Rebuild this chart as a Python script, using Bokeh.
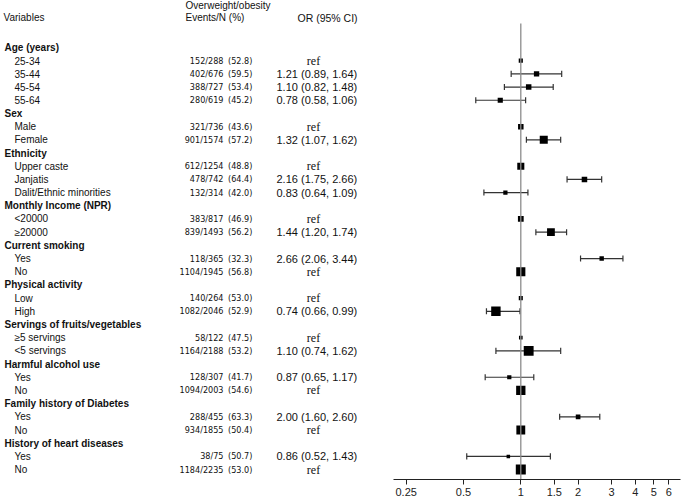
from bokeh.plotting import figure
from bokeh.models import Range1d, FixedTicker, CustomJSTickFormatter, ColumnDataSource
from bokeh.core.properties import value
from bokeh.embed import file_html
from bokeh.resources import INLINE

# ---------------- data ----------------
groups = ["Age (years)", "Sex", "Ethnicity", "Monthly Income (NPR)", "Current smoking",
          "Physical activity", "Servings of fruits/vegetables", "Harmful alcohol use",
          "Family history of Diabetes", "History of heart diseases"]
levels = [["25-34", "35-44", "45-54", "55-64"],
          ["Male", "Female"],
          ["Upper caste", "Janjatis", "Dalit/Ethnic minorities"],
          ["<20000", "\u226520000"],
          ["Yes", "No"],
          ["Low", "High"],
          ["\u22655 servings", "<5 servings"],
          ["Yes", "No"],
          ["Yes", "No"],
          ["Yes", "No"]]
events = [152, 402, 388, 280, 321, 901, 612, 478, 132, 383, 839, 118, 1104,
          140, 1082, 58, 1164, 128, 1094, 288, 934, 38, 1184]
totals = [288, 676, 727, 619, 736, 1574, 1254, 742, 314, 817, 1493, 365, 1945,
          264, 2046, 122, 2188, 307, 2003, 455, 1855, 75, 2235]
pcts = [52.8, 59.5, 53.4, 45.2, 43.6, 57.2, 48.8, 64.4, 42.0, 46.9, 56.2, 32.3, 56.8,
        53.0, 52.9, 47.5, 53.2, 41.7, 54.6, 63.3, 50.4, 50.7, 53.0]
odds = [None, 1.21, 1.10, 0.78, None, 1.32, None, 2.16, 0.83, None, 1.44, 2.66, None,
        None, 0.74, None, 1.10, 0.87, None, 2.00, None, 0.86, None]
ci_lo = [None, 0.89, 0.82, 0.58, None, 1.07, None, 1.75, 0.64, None, 1.20, 2.06, None,
         None, 0.66, None, 0.74, 0.65, None, 1.60, None, 0.52, None]
ci_hi = [None, 1.64, 1.48, 1.06, None, 1.62, None, 2.66, 1.09, None, 1.74, 3.44, None,
         None, 0.99, None, 1.62, 1.17, None, 2.60, None, 1.43, None]
ticks = [0.25, 0.5, 1, 1.5, 2, 3, 4, 5, 6]

# ---------------- layout helpers ----------------
W, H = 685, 500
X_ONE, OCT = 520.3, 57.3          # px of OR=1 and px per doubling


def ref_or(X):
    return 2 ** ((X - X_ONE) / OCT)


def row(Y):
    return (Y - 47.0) / 13.19


xr = Range1d(ref_or(0), ref_or(W))
yr = Range1d(row(479), row(0))

p = figure(width=W, height=H, x_axis_type="log", x_range=xr, y_range=yr,
           output_backend="svg", toolbar_location=None, y_axis_location=None,
           min_border_left=0, min_border_right=0, min_border_top=0, min_border_bottom=21,
           outline_line_color=None, background_fill_color="white")
p.grid.visible = False

ax = p.xaxis[0]
ax.ticker = FixedTicker(ticks=ticks)
ax.formatter = CustomJSTickFormatter(code="return tick.toString();")
ax.bounds = (ref_or(393), ref_or(680))
ax.major_tick_in = 0
ax.major_tick_out = 5
ax.minor_tick_in = 0
ax.minor_tick_out = 0
ax.axis_line_color = "#222222"
ax.major_tick_line_color = "#222222"
ax.major_label_text_font = "Liberation Sans"
ax.major_label_text_font_size = "11px"
ax.major_label_text_color = "#222222"
ax.major_label_standoff = 3

# ---------------- build rows ----------------
x0 = xr.start
lab_y, lab_t = [], []
hd_y, hd_t = [], []
ev_y, ev_t, pc_t = [], [], []
or_y, or_t = [], []
ref_y, ref_t = [], []
pt_x, pt_y, pt_s = [], [], []
ci_y, ci_l, ci_h = [], [], []

r = 0
k = 0
for g, levs in zip(groups, levels):
    hd_y.append(r)
    hd_t.append(g)
    r += 1
    for lv in levs:
        lab_y.append(r)
        lab_t.append(lv)
        ev_y.append(r)
        ev_t.append(f"{events[k]}/{totals[k]}")
        pc_t.append(f"({pcts[k]:.1f})")
        pt_y.append(r)
        pt_s.append(3.3 + 0.003 * totals[k])
        if odds[k] is None:
            ref_y.append(r)
            ref_t.append("ref")
            pt_x.append(1.0)
        else:
            or_y.append(r)
            or_t.append(f"{odds[k]:.2f} ({ci_lo[k]:.2f}, {ci_hi[k]:.2f})")
            pt_x.append(odds[k])
            ci_y.append(r)
            ci_l.append(ci_lo[k])
            ci_h.append(ci_hi[k])
        k += 1
        r += 1

sans = value("Liberation Sans")
cond = value("'DejaVu Sans Condensed', 'Liberation Sans'")
serif = value("Liberation Serif")


def put(ys, texts, X, align="left", font=sans, size="10px", style="normal"):
    src = ColumnDataSource(dict(x=[x0] * len(ys), y=ys, text=texts))
    p.text(x="x", y="y", text="text", source=src, x_offset=X,
           text_font=font, text_font_size=value(size), text_font_style=style,
           text_align=align, text_baseline="middle", text_color="#111111")


# column headers
put([row(5)], ["Overweight/obesity"], 185)
put([row(17)], ["Variables"], 3)
put([row(17)], ["Events/N (%)"], 185)
put([row(17)], ["OR (95% CI)"], 297, size="10.5px")

put(hd_y, hd_t, 4, style="bold")
put(lab_y, lab_t, 14)
put(ev_y, ev_t, 223, align="right", font=cond, size="9px")
put(ev_y, pc_t, 227.5, font=cond, size="9px")
put(or_y, or_t, 276, size="11px")
put(ref_y, ref_t, 313, align="center", font=serif, size="12px")

# ---------------- forest ----------------
cap = 0.23
p.segment(x0=ci_l, y0=ci_y, x1=ci_h, y1=ci_y, line_color="#333333", line_width=1.2)
p.segment(x0=ci_l, y0=[y - cap for y in ci_y], x1=ci_l, y1=[y + cap for y in ci_y],
          line_color="#333333", line_width=1.2)
p.segment(x0=ci_h, y0=[y - cap for y in ci_y], x1=ci_h, y1=[y + cap for y in ci_y],
          line_color="#333333", line_width=1.2)
p.scatter(x=pt_x, y=pt_y, size=pt_s, marker="square", fill_color="black", line_color=None)
p.segment(x0=[1], y0=[row(23)], x1=[1], y1=[row(479)], line_color="#8c8c8c", line_width=1.3)

open("out.html", "w").write(file_html(p, INLINE))
